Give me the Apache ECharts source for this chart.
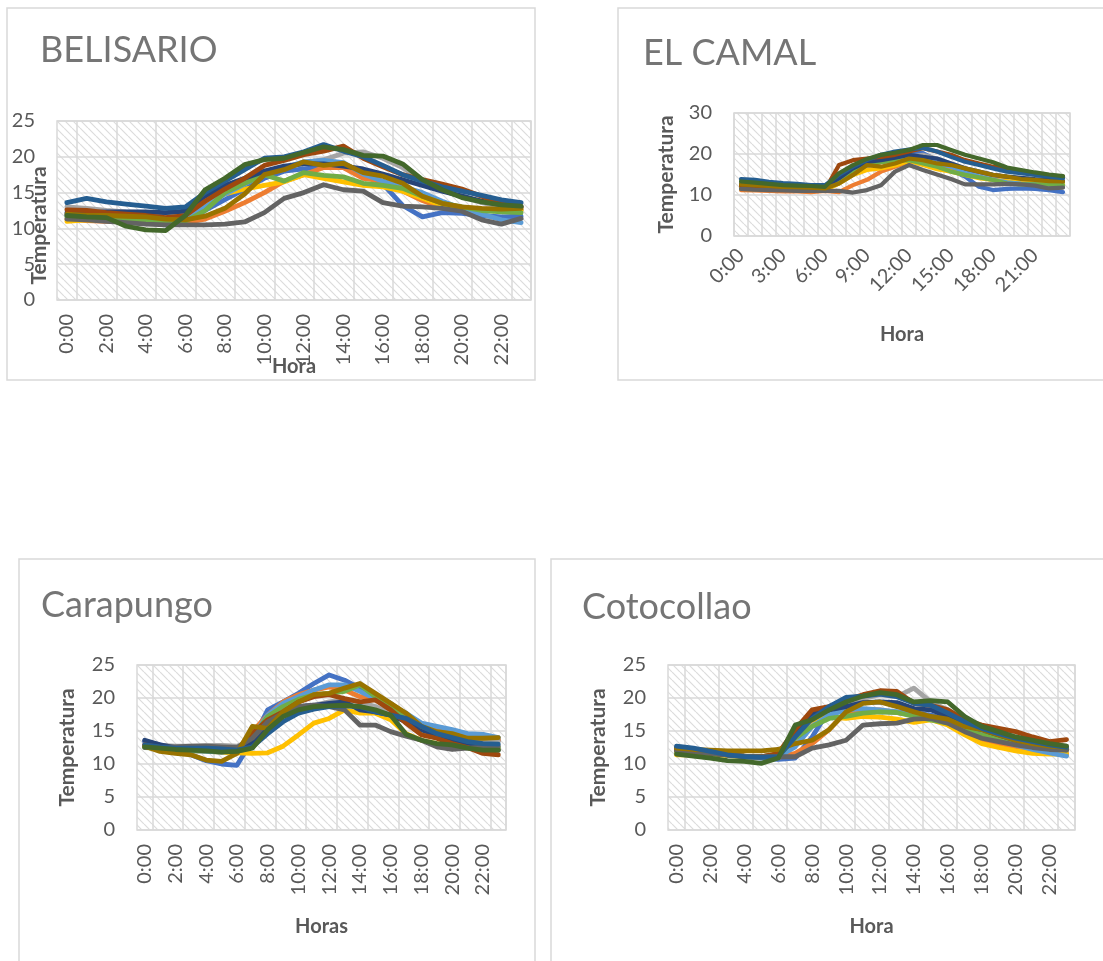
<!DOCTYPE html>
<html>
<head>
<meta charset="utf-8">
<script src="https://cdn.jsdelivr.net/npm/echarts@6/dist/echarts.min.js"></script>
<style>
  html, body { margin: 0; padding: 0; background: #fff; }
  #chart { width: 1103px; height: 961px; }
</style>
</head>
<body>
<div id="chart"></div>
<script>
// hour categories shared by the four stations
const hours = ['0:00', '1:00', '2:00', '3:00', '4:00', '5:00', '6:00', '7:00', '8:00', '9:00', '10:00', '11:00',
  '12:00', '13:00', '14:00', '15:00', '16:00', '17:00', '18:00', '19:00', '20:00', '21:00', '22:00', '23:00'];

// excel office palette, one colour per series
const palette = ['#4472C4', '#ED7D31', '#A5A5A5', '#FFC000', '#5B9BD5', '#70AD47',
  '#264478', '#9E480E', '#636363', '#997300', '#255E91', '#43682B'];

const belisario = [
  [11.8, 11.6, 11.4, 11.2, 11.0, 10.5, 10.8, 12.5, 14.0, 15.5, 17.0, 18.0, 18.3, 18.6, 18.5, 17.6, 16.2, 13.2, 11.6, 12.2, 12.1, 11.8, 11.6, 11.7],
  [11.3, 11.1, 11.0, 10.9, 10.8, 10.7, 10.8, 11.3, 12.4, 13.6, 15.0, 16.6, 17.5, 18.5, 18.5, 17.0, 16.6, 15.2, 13.9, 12.9, 12.8, 12.7, 12.6, 12.6],
  [13.0, 12.8, 12.5, 12.3, 12.2, 12.0, 12.0, 13.5, 15.0, 16.5, 17.8, 18.5, 19.2, 19.6, 20.5, 20.7, 19.8, 18.5, 16.6, 15.6, 14.6, 13.6, 13.1, 12.6],
  [11.0, 11.2, 11.1, 11.0, 10.9, 10.8, 11.5, 13.5, 14.8, 15.5, 16.0, 16.5, 17.5, 17.0, 16.5, 16.0, 15.8, 15.2, 14.2, 13.2, 12.8, 12.5, 12.5, 12.5],
  [12.0, 11.8, 11.5, 11.3, 11.2, 11.0, 11.4, 13.0, 14.8, 16.2, 17.6, 18.5, 19.3, 19.5, 19.2, 17.6, 16.6, 15.8, 15.0, 13.8, 12.8, 12.0, 11.2, 10.8],
  [11.6, 11.7, 11.5, 11.3, 11.2, 11.0, 11.0, 12.5, 15.0, 16.3, 17.5, 16.6, 17.8, 17.4, 17.2, 16.3, 16.0, 15.6, 14.5, 13.5, 13.0, 12.5, 12.3, 12.2],
  [12.2, 12.2, 12.3, 12.3, 12.3, 12.2, 12.4, 14.5, 16.0, 17.0, 18.0, 18.7, 19.0, 19.0, 18.7, 18.3, 17.6, 16.8, 16.0, 15.2, 14.5, 13.8, 13.3, 13.0],
  [12.6, 12.5, 12.2, 12.0, 11.8, 11.5, 11.8, 13.8, 15.5, 17.0, 18.8, 19.5, 20.3, 20.8, 21.5, 19.8, 18.6, 17.5, 16.8, 16.2, 15.5, 14.5, 13.5, 13.0],
  [11.3, 11.2, 11.0, 10.8, 10.6, 10.5, 10.5, 10.5, 10.6, 10.9, 12.2, 14.2, 15.0, 16.1, 15.4, 15.2, 13.6, 13.1, 13.0, 12.8, 12.4, 11.2, 10.6, 11.4],
  [12.0, 11.8, 11.8, 11.7, 11.6, 11.3, 11.2, 11.7, 12.8, 14.8, 17.5, 18.2, 19.3, 18.8, 19.1, 17.8, 17.3, 16.3, 14.5, 13.5, 13.0, 12.8, 12.7, 12.8],
  [13.6, 14.2, 13.7, 13.4, 13.1, 12.8, 13.0, 15.0, 16.6, 18.2, 19.8, 20.0, 20.7, 21.7, 20.8, 20.0, 18.8, 17.5, 16.6, 15.8, 15.2, 14.6, 14.0, 13.6],
  [11.8, 11.6, 11.5, 10.3, 9.8, 9.7, 11.8, 15.4, 17.0, 18.9, 19.6, 19.8, 20.6, 21.4, 21.0, 20.2, 20.1, 19.0, 16.8, 15.4, 14.3, 13.7, 13.3, 13.1]
];

const elCamal = [
  [12.0, 11.8, 11.7, 11.6, 11.6, 11.5, 11.6, 13.7, 16.1, 17.7, 18.9, 20.2, 20.7, 20.2, 18.5, 16.1, 14.5, 12.0, 11.2, 11.5, 11.6, 11.5, 11.2, 10.7],
  [11.2, 11.1, 11.0, 10.9, 10.9, 10.7, 11.0, 10.7, 12.4, 13.7, 15.7, 16.9, 18.1, 18.1, 17.3, 16.1, 15.3, 14.5, 13.7, 13.4, 13.3, 13.1, 12.8, 12.6],
  [12.4, 12.2, 12.0, 11.9, 11.8, 11.7, 11.6, 12.8, 14.9, 16.9, 18.1, 18.9, 19.3, 19.8, 18.9, 17.7, 16.5, 15.3, 14.5, 13.9, 13.7, 13.4, 13.1, 12.8],
  [12.0, 11.8, 11.6, 11.5, 11.4, 11.3, 11.2, 12.8, 14.9, 16.1, 16.5, 17.2, 18.3, 17.3, 16.3, 15.7, 14.9, 14.1, 13.7, 13.4, 13.3, 13.1, 12.8, 12.6],
  [12.8, 12.5, 12.2, 12.0, 11.9, 11.7, 11.6, 13.7, 16.1, 17.7, 18.5, 18.9, 19.3, 18.9, 17.7, 16.9, 15.7, 14.5, 13.7, 13.1, 12.8, 12.6, 12.3, 12.0],
  [11.5, 11.4, 11.4, 11.3, 11.3, 11.3, 11.5, 13.3, 15.7, 17.3, 18.0, 18.3, 18.5, 17.7, 16.9, 15.7, 14.9, 14.3, 13.7, 12.8, 12.6, 12.6, 12.6, 12.4],
  [12.6, 12.5, 12.3, 12.2, 12.1, 12.0, 12.0, 14.1, 16.5, 18.1, 18.5, 19.1, 19.8, 19.3, 18.9, 17.7, 16.5, 15.7, 14.9, 14.5, 14.2, 13.9, 13.7, 13.4],
  [12.2, 12.0, 11.8, 11.6, 11.5, 11.3, 11.2, 17.3, 18.5, 18.9, 19.3, 19.8, 20.6, 21.4, 20.6, 19.8, 18.5, 17.7, 16.9, 16.5, 15.7, 15.3, 14.7, 14.5],
  [11.5, 11.3, 11.2, 11.1, 11.0, 11.0, 11.0, 11.0, 10.6, 11.2, 12.4, 15.7, 17.3, 16.1, 15.0, 13.9, 12.6, 12.6, 12.6, 12.7, 12.6, 12.3, 11.6, 11.8],
  [12.6, 12.4, 12.2, 12.0, 11.9, 11.8, 11.6, 12.8, 14.9, 17.3, 16.9, 17.7, 18.9, 18.5, 17.7, 17.3, 16.5, 15.7, 14.9, 14.5, 13.9, 13.7, 13.4, 13.3],
  [13.9, 13.7, 13.2, 12.9, 12.7, 12.4, 12.4, 14.9, 16.9, 18.5, 19.8, 20.6, 21.1, 21.5, 20.6, 19.3, 18.1, 17.3, 16.5, 15.7, 15.3, 14.9, 14.5, 14.1],
  [13.3, 13.0, 12.7, 12.4, 12.3, 12.2, 12.0, 15.3, 17.3, 18.8, 19.8, 20.3, 21.0, 22.2, 22.2, 21.0, 19.8, 18.9, 18.0, 16.7, 16.1, 15.5, 15.0, 14.6]
];

const carapungo = [
  [13.4, 12.9, 12.4, 11.4, 10.5, 10.0, 9.8, 13.6, 18.2, 19.4, 20.7, 22.2, 23.5, 22.7, 21.5, 20.5, 19.2, 17.4, 15.9, 15.4, 14.9, 14.4, 13.9, 13.6],
  [12.9, 12.6, 12.4, 12.3, 12.1, 11.9, 12.1, 14.9, 17.4, 19.4, 20.5, 21.2, 21.7, 21.2, 20.2, 20.2, 18.9, 17.4, 15.9, 15.4, 14.9, 14.4, 14.0, 13.6],
  [12.9, 12.8, 12.7, 12.7, 12.8, 12.8, 12.7, 13.6, 15.7, 17.2, 18.2, 18.9, 19.4, 19.7, 19.4, 18.7, 17.7, 16.4, 15.7, 14.9, 14.4, 13.9, 13.6, 13.4],
  [12.7, 12.4, 12.1, 12.0, 11.9, 11.8, 11.7, 11.6, 11.7, 12.7, 14.4, 16.2, 16.9, 18.2, 17.7, 17.7, 16.7, 14.6, 13.6, 13.1, 12.9, 12.5, 12.4, 12.2],
  [12.6, 12.4, 12.1, 12.0, 11.9, 11.8, 12.2, 14.1, 17.4, 19.2, 20.2, 21.2, 22.0, 22.0, 21.0, 19.9, 18.9, 17.7, 16.2, 15.7, 15.2, 14.6, 14.5, 14.0],
  [12.5, 12.4, 12.2, 12.1, 12.0, 12.0, 12.1, 13.9, 17.2, 18.7, 19.8, 20.5, 20.7, 21.0, 22.0, 20.2, 18.7, 16.7, 15.2, 14.4, 13.9, 13.4, 12.9, 12.5],
  [13.6, 12.9, 12.5, 12.4, 12.2, 12.1, 12.1, 13.1, 15.7, 17.4, 18.7, 18.9, 19.2, 19.4, 18.2, 17.9, 17.4, 16.4, 15.2, 14.4, 13.6, 12.9, 12.4, 12.1],
  [12.9, 12.5, 12.5, 12.4, 12.2, 12.1, 12.1, 14.6, 16.7, 17.9, 19.4, 20.2, 20.5, 19.9, 19.4, 19.7, 18.2, 16.2, 14.4, 13.9, 13.1, 12.5, 11.6, 11.4],
  [12.5, 12.5, 12.6, 12.7, 12.7, 12.6, 12.5, 13.9, 16.4, 17.7, 18.7, 18.9, 18.7, 18.2, 15.9, 15.9, 14.9, 14.2, 13.6, 12.6, 12.2, 12.4, 12.5, 12.7],
  [12.7, 11.9, 11.6, 11.4, 10.6, 10.4, 11.6, 15.7, 15.4, 17.9, 19.4, 20.5, 20.7, 21.5, 22.2, 20.7, 19.2, 17.7, 15.7, 14.9, 14.6, 13.9, 13.9, 14.0],
  [12.9, 12.6, 12.4, 12.4, 12.4, 12.3, 12.1, 12.6, 14.6, 16.4, 17.7, 18.3, 18.7, 18.8, 18.7, 17.9, 17.4, 16.9, 15.7, 14.6, 14.0, 13.4, 13.1, 13.0],
  [12.6, 12.4, 12.2, 12.1, 12.0, 11.8, 11.9, 12.4, 15.2, 17.2, 18.2, 18.7, 18.8, 18.9, 18.7, 18.2, 17.4, 14.5, 13.6, 13.1, 12.9, 12.4, 12.1, 12.1]
];

const cotocollao = [
  [12.1, 11.9, 11.6, 11.4, 11.1, 10.9, 10.7, 10.9, 14.1, 18.2, 18.9, 18.2, 17.9, 17.9, 17.7, 17.4, 16.7, 14.9, 13.4, 12.9, 12.4, 11.9, 11.6, 11.5],
  [11.9, 11.7, 11.5, 11.4, 11.2, 11.1, 11.0, 11.6, 13.1, 15.2, 17.9, 18.2, 18.2, 17.8, 17.4, 16.9, 16.2, 14.6, 13.6, 13.1, 12.6, 12.2, 11.9, 11.7],
  [12.4, 12.1, 11.6, 11.4, 11.1, 11.1, 11.4, 13.6, 16.4, 18.2, 19.4, 19.9, 20.5, 20.2, 21.5, 19.4, 18.2, 16.7, 15.7, 14.9, 14.1, 13.5, 13.0, 12.7],
  [11.4, 11.4, 11.4, 11.3, 11.1, 11.1, 11.4, 14.6, 16.7, 17.1, 16.9, 17.2, 17.1, 16.8, 16.3, 16.7, 15.9, 14.4, 13.1, 12.5, 12.0, 11.6, 11.5, 11.5],
  [12.0, 11.9, 11.6, 11.4, 11.2, 11.1, 11.1, 12.6, 15.7, 17.4, 18.2, 18.4, 18.2, 17.9, 17.4, 17.2, 16.4, 15.4, 14.4, 13.6, 12.9, 12.2, 11.7, 11.2],
  [11.9, 11.7, 11.5, 11.4, 11.2, 11.1, 11.2, 13.9, 15.7, 16.9, 17.2, 17.7, 17.9, 17.8, 17.2, 16.7, 16.2, 15.2, 14.4, 13.9, 13.2, 12.7, 12.4, 12.1],
  [12.5, 12.1, 11.7, 11.4, 11.1, 11.1, 11.4, 14.4, 17.7, 18.2, 18.7, 19.3, 19.4, 19.3, 18.4, 18.2, 17.2, 15.9, 15.2, 14.4, 13.6, 13.0, 12.5, 12.2],
  [12.1, 11.9, 11.6, 11.4, 11.2, 11.1, 11.6, 15.2, 18.2, 18.7, 19.7, 20.5, 21.1, 21.0, 19.2, 18.9, 18.2, 16.7, 15.9, 15.4, 14.9, 14.1, 13.4, 13.7],
  [12.1, 11.9, 11.6, 11.4, 11.2, 11.1, 11.1, 11.1, 12.4, 12.9, 13.6, 15.9, 16.1, 16.2, 16.8, 16.9, 16.2, 14.9, 13.9, 13.4, 12.9, 12.5, 12.2, 12.1],
  [12.4, 12.2, 12.1, 12.0, 12.0, 12.0, 12.2, 13.1, 13.6, 15.2, 17.9, 19.2, 19.4, 18.7, 17.9, 17.2, 16.8, 15.7, 15.2, 14.4, 13.6, 13.1, 12.7, 12.5],
  [12.7, 12.4, 11.9, 11.4, 11.1, 11.0, 11.1, 14.1, 16.9, 18.7, 20.1, 20.3, 20.6, 20.2, 19.2, 18.9, 17.7, 16.4, 15.4, 14.6, 13.9, 13.4, 12.9, 12.5],
  [11.5, 11.2, 10.9, 10.5, 10.4, 10.1, 10.9, 15.9, 16.7, 18.2, 19.4, 20.3, 20.8, 20.5, 19.4, 19.6, 19.4, 17.2, 15.7, 14.9, 14.1, 13.6, 13.1, 12.7]
];

const font = 'Lato, "Open Sans", sans-serif';
const labelGray = '#595959';
const gridGray = '#d9d9d9';

// light downward diagonal pattern used as plot area fill
const hatch = document.createElement('canvas');
hatch.width = 8;
hatch.height = 8;
const hctx = hatch.getContext('2d');
hctx.fillStyle = '#ffffff';
hctx.fillRect(0, 0, 8, 8);
hctx.strokeStyle = '#dcdcdc';
hctx.lineWidth = 1.2;
hctx.beginPath();
[-8, 0, 8].forEach(k => {
  hctx.moveTo(k, 0);
  hctx.lineTo(k + 8, 8);
});
hctx.stroke();

const chart = echarts.init(document.getElementById('chart'));

const grids = [
  { left: 57, top: 121, width: 474, height: 179 },
  { left: 734, top: 113, width: 336, height: 123 },
  { left: 137, top: 665, width: 369, height: 165 },
  { left: 668, top: 665, width: 407, height: 165 }
].map(g => Object.assign(g, {
  show: true,
  backgroundColor: { image: hatch, repeat: 'repeat' },
  borderColor: gridGray,
  borderWidth: 1.5
}));

const titles = [
  { text: 'BELISARIO', left: 40, top: 32 },
  { text: 'EL CAMAL', left: 643, top: 35 },
  { text: 'Carapungo', left: 41, top: 587 },
  { text: 'Cotocollao', left: 582, top: 589 }
].map(t => Object.assign(t, {
  padding: 0,
  textStyle: { fontFamily: font, fontSize: 36, fontWeight: 'normal', color: '#757575' }
}));

const xNames = ['Hora', 'Hora', 'Horas', 'Hora'];
const xGaps = [57, 89, 87, 87];
const xRotate = [90, 45, 90, 90];
const xLabelEvery = [1, 2, 1, 1];

const xAxis = xNames.map((name, i) => ({
  type: 'category',
  gridIndex: i,
  data: hours,
  name,
  nameLocation: 'middle',
  nameGap: xGaps[i],
  nameMoveOverlap: false,
  nameTextStyle: { fontFamily: font, fontSize: 20, fontWeight: 'bold', color: labelGray },
  axisLine: { show: false },
  axisTick: { show: false },
  axisLabel: {
    interval: xLabelEvery[i],
    rotate: xRotate[i],
    margin: xRotate[i] === 45 ? 16 : 14,
    fontFamily: font,
    fontSize: 20,
    color: labelGray
  },
  splitLine: {
    show: true,
    interval: i === 1 ? 0 : (idx) => idx % 2 === 1,
    lineStyle: { color: gridGray, width: 1.5 }
  }
}));

const yMax = [25, 30, 25, 25];
const yStep = [5, 10, 5, 5];
const yGaps = [7, 57, 59, 59];

const yAxis = yMax.map((max, i) => ({
  type: 'value',
  gridIndex: i,
  min: 0,
  max,
  interval: yStep[i],
  name: 'Temperatura',
  nameLocation: 'middle',
  nameGap: yGaps[i],
  nameMoveOverlap: false,
  nameTextStyle: {
    fontFamily: font, fontSize: 21, fontWeight: 'bold', color: labelGray,
    padding: i === 0 ? [0, 30, 0, 0] : 0
  },
  axisLine: { show: false },
  axisTick: { show: false },
  axisLabel: { margin: 22, fontFamily: font, fontSize: 20, color: labelGray },
  splitLine: { lineStyle: { color: gridGray, width: 1.5 } }
}));

const stations = [belisario, elCamal, carapungo, cotocollao];
const series = [];
stations.forEach((rows, g) => {
  rows.forEach((row, k) => {
    series.push({
      type: 'line',
      name: 'Serie ' + (k + 1),
      xAxisIndex: g,
      yAxisIndex: g,
      data: row,
      symbol: 'none',
      silent: true,
      lineStyle: { color: palette[k], width: g === 1 ? 4.2 : 4.8, cap: 'round', join: 'round' },
      itemStyle: { color: palette[k] }
    });
  });
});

// chart area frames drawn around each station block
const frames = [
  [7, 8, 528, 372],
  [618, 8, 495, 372],
  [19, 559, 516, 410],
  [551, 559, 560, 410]
].map(([x, y, w, h]) => ({
  type: 'rect',
  shape: { x, y, width: w, height: h },
  style: { fill: 'none', stroke: gridGray, lineWidth: 1.5 },
  silent: true
}));

chart.setOption({
  animation: false,
  title: titles,
  grid: grids,
  xAxis,
  yAxis,
  series,
  graphic: frames
});
</script>
</body>
</html>
